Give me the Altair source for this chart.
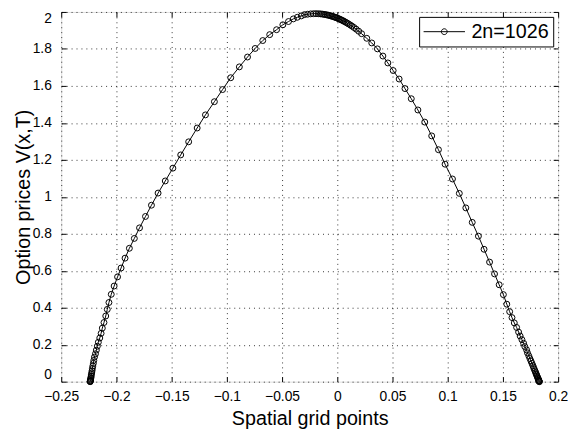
import altair as alt
import pandas as pd

# Spatial grid points (x) and option prices V(x,T)
xs = [-0.2238, -0.22376, -0.2237, -0.2236, -0.2235, -0.2233, -0.2231, -0.2229, -0.2227, -0.2224,
      -0.2221, -0.2218, -0.2214, -0.2209, -0.2205,
      -0.2199, -0.2190, -0.2182, -0.2173, -0.2164, -0.2151, -0.2139, -0.2128, -0.2113, -0.2097,
      -0.2083, -0.2068, -0.2047,
      -0.2021, -0.1990, -0.1958, -0.1922, -0.1883, -0.1838, -0.1791, -0.1737, -0.1683, -0.1623,
      -0.1558, -0.1489, -0.1418, -0.1346,
      -0.1269, -0.1194, -0.1113, -0.1039, -0.0965, -0.0887, -0.0813, -0.0744, -0.0675, -0.0612,
      -0.0550, -0.0493, -0.0442, -0.0398, -0.0362, -0.0326, -0.0297,
      -0.0268, -0.0241, -0.0216, -0.0193, -0.0171, -0.0153, -0.0137, -0.0122, -0.0109, -0.0095,
      -0.0083, -0.0071, -0.0060, -0.0048, -0.0037, -0.0026, -0.0016, -0.0005, 0.0006, 0.0017,
      0.0027, 0.0038, 0.0050, 0.0061, 0.0074, 0.0087, 0.0101, 0.0117, 0.0133, 0.0151,
      0.0171, 0.0194, 0.0220,
      0.0267, 0.0312, 0.0363, 0.0413, 0.0458, 0.0506, 0.0560, 0.0613, 0.0670, 0.0730,
      0.0792, 0.0855, 0.0916,
      0.0976, 0.1043, 0.1105, 0.1164, 0.1222, 0.1278, 0.1329, 0.1379, 0.1424, 0.1466, 0.1504,
      0.1535, 0.1561, 0.1582, 0.1603, 0.1624, 0.1642, 0.1656, 0.1672, 0.1687, 0.1698,
      0.1714, 0.1722, 0.1734,
      0.1744, 0.1754, 0.1763, 0.1771, 0.1778, 0.1784, 0.1791, 0.1796, 0.1801, 0.1806,
      0.1810, 0.1814, 0.1818, 0.1821, 0.1824, 0.1826, 0.1828, 0.1829, 0.1830]

ys = [0.0, 0.001, 0.0032, 0.0064, 0.0107, 0.016, 0.0224, 0.0299, 0.0384, 0.048,
      0.0587, 0.0709, 0.0843, 0.0992, 0.1152,
      0.1333, 0.1509, 0.1707, 0.192, 0.2133, 0.2363, 0.2613, 0.2896, 0.32, 0.3552,
      0.3909, 0.4283, 0.4725,
      0.5173, 0.5669, 0.6149, 0.6682, 0.7216, 0.7749, 0.832, 0.8938, 0.9546, 1.0202,
      1.0858, 1.1551, 1.2266, 1.2975,
      1.3722, 1.4432, 1.5146, 1.5802, 1.6442, 1.7029, 1.7562, 1.8026, 1.8453, 1.8773,
      1.904, 1.9306, 1.9482, 1.9626, 1.9712, 1.9786, 1.9856,
      1.9878, 1.9897, 1.9906, 1.9908, 1.9904, 1.9896, 1.9885, 1.9872, 1.9859, 1.9843,
      1.9826, 1.9809, 1.979, 1.9769, 1.9749, 1.9726, 1.9703, 1.9678, 1.9652, 1.9624,
      1.9595, 1.9565, 1.953, 1.9494, 1.9453, 1.9407, 1.9355, 1.9297, 1.9233, 1.9159,
      1.9068, 1.8958, 1.8824,
      1.8575, 1.8324, 1.8004, 1.7615, 1.7242, 1.6831, 1.6372, 1.5855, 1.5306, 1.4698,
      1.4042, 1.3295, 1.2548,
      1.1765, 1.0965, 1.0186, 0.9402, 0.8618, 0.7872, 0.7162, 0.6469, 0.5829, 0.5242, 0.4709,
      0.4192, 0.3786, 0.3466, 0.3179, 0.2933, 0.2682, 0.2469, 0.2272, 0.208, 0.1899,
      0.1723, 0.1563, 0.1403,
      0.1253, 0.1115, 0.0987, 0.0869, 0.0763, 0.0667, 0.0576, 0.0496, 0.0421, 0.0352,
      0.0288, 0.0229, 0.0176, 0.0128, 0.0085, 0.0053, 0.0027, 0.0011, 0.0]

series_name = "2n=1026"
x_ticks = [-0.25, -0.2, -0.15, -0.1, -0.05, 0, 0.05, 0.1, 0.15, 0.2]
y_ticks = [0, 0.2, 0.4, 0.6, 0.8, 1, 1.2, 1.4, 1.6, 1.8, 2]

df = pd.DataFrame({"x": xs, "y": ys, "series": [series_name] * len(xs)})

FONT = "Liberation Sans"
xscale = alt.Scale(domain=[-0.25, 0.2], nice=False, zero=False)
yscale = alt.Scale(domain=[0, 2], nice=False, zero=False)

common_axis = dict(domain=False, tickSize=5, tickColor="black", tickWidth=1, offset=-5,
                   labelFont=FONT, labelFontSize=14, labelColor="black",
                   titleFont=FONT, titleFontSize=20, titleFontWeight="normal", titleColor="black",
                   grid=True, gridColor="black", gridDash=[1, 4], gridOpacity=0.8, gridWidth=1,
                   format="~g")

x_axis = alt.Axis(values=x_ticks, title="Spatial grid points", orient="bottom",
                  labelFlush=False, labelPadding=8, titlePadding=5, **common_axis)
y_axis = alt.Axis(values=y_ticks, title="Option prices V(x,T)", orient="left",
                  labelPadding=10, titlePadding=-1, labelFlush=True, **common_axis)

legend_symbol = ("M-1,0L1,0M0.14,0A0.14,0.14,0,1,1,-0.14,0"
                 "A0.14,0.14,0,1,1,0.14,0Z")

line = alt.Chart(df).mark_line(
    strokeWidth=1,
    point=alt.OverlayMarkDef(shape="circle", filled=False, size=36, strokeWidth=1, color="black"),
).encode(
    x=alt.X("x:Q", scale=xscale, axis=x_axis),
    y=alt.Y("y:Q", scale=yscale, axis=y_axis),
    color=alt.Color("series:N", scale=alt.Scale(range=["black"]),
                    legend=alt.Legend(title=None, orient="top-right", offset=5,
                                      symbolType=legend_symbol, symbolSize=1764,
                                      symbolStrokeColor="black", symbolStrokeWidth=1,
                                      symbolFillColor="transparent",
                                      labelFont=FONT, labelFontSize=20, labelColor="black",
                                      labelOffset=6, padding=4, clipHeight=22,
                                      strokeColor="black", fillColor="white", cornerRadius=0)),
)

tick_axis = dict(domain=False, tickSize=5, tickColor="black", tickWidth=1, offset=-5,
                 labels=False, grid=False, title=None)
frame = alt.Chart(df).mark_point(opacity=0).encode(
    x=alt.X("x:Q", scale=xscale, axis=alt.Axis(values=x_ticks, orient="top", **tick_axis)),
    y=alt.Y("y:Q", scale=yscale, axis=alt.Axis(values=y_ticks, orient="right", **tick_axis)),
)

chart = alt.layer(line, frame).resolve_axis(x="independent", y="independent").properties(
    width=504, height=375,
    padding={"left": 54, "top": 1, "right": 10, "bottom": 46},
    autosize=alt.AutoSizeParams(type="none"),
).configure_view(stroke="black", strokeWidth=1).configure(background="white")

chart.save("out.html", embed_options={"renderer": "svg", "actions": False})
